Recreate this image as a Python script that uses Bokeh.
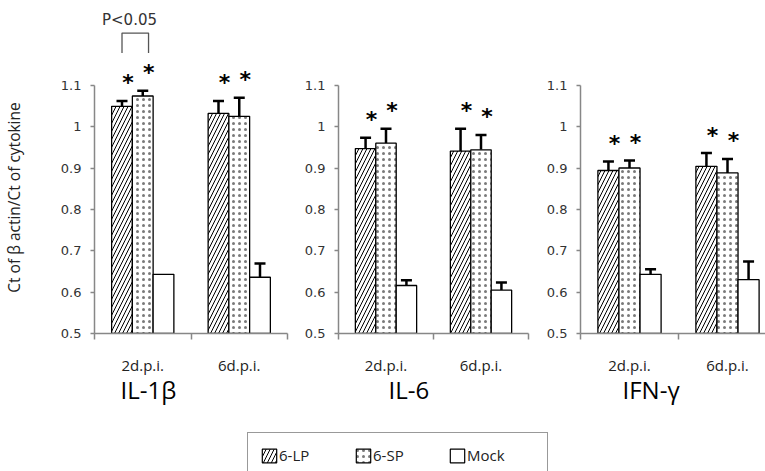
import math
from bokeh.plotting import figure
from bokeh.layouts import column, row
from bokeh.models import (ColumnDataSource, Range1d, FixedTicker, NumeralTickFormatter,
                          Whisker, TeeHead, Title, Legend, LegendItem, LinearAxis, Label)
from bokeh.core.properties import value
from bokeh.embed import file_html
from bokeh.resources import INLINE

# ---- data -------------------------------------------------------------
days = ["2d.p.i.", "6d.p.i."]
groups = ["6-LP", "6-SP", "Mock"]
cytokines = ["IL-1β", "IL-6", "IFN-γ"]
y_title = "Ct of β actin/Ct of cytokine"

il1b_lp = [1.049, 1.032]
il1b_lp_err = [0.013, 0.030]
il1b_sp = [1.074, 1.025]
il1b_sp_err = [0.013, 0.045]
il1b_mock = [0.643, 0.636]
il1b_mock_err = [0.0, 0.033]

il6_lp = [0.947, 0.941]
il6_lp_err = [0.026, 0.054]
il6_sp = [0.960, 0.944]
il6_sp_err = [0.035, 0.036]
il6_mock = [0.616, 0.605]
il6_mock_err = [0.013, 0.018]

ifng_lp = [0.894, 0.904]
ifng_lp_err = [0.022, 0.032]
ifng_sp = [0.900, 0.888]
ifng_sp_err = [0.018, 0.034]
ifng_mock = [0.643, 0.630]
ifng_mock_err = [0.012, 0.044]

y_ticks = [0.5, 0.6, 0.7, 0.8, 0.9, 1.0, 1.1]

# ---- styling ----------------------------------------------------------
BAR_W = 0.215
OFFSETS = [-BAR_W, 0.0, BAR_W]
AXIS_GREY = "#878787"
TICK_FONT = "DejaVu Sans"
TEXT_FONT = "Open Sans"

BAR_STYLES = [
    dict(fill_color="white", hatch_pattern="/", hatch_color="black",
         hatch_scale=8, hatch_weight=1.0),
    dict(fill_color="white", hatch_pattern=".", hatch_color="#333333",
         hatch_scale=6, hatch_weight=0.5, hatch_alpha=0.65),
    dict(fill_color="white"),
]

H = 420
LABEL_W = 26
PANELS = [
    # cytokine, series, errors, width, left border, right border, x end, title offset
    (cytokines[0], [il1b_lp, il1b_sp, il1b_mock], [il1b_lp_err, il1b_sp_err, il1b_mock_err],
     290 - LABEL_W, 94 - LABEL_W, 3, 2.0, 26),
    (cytokines[1], [il6_lp, il6_sp, il6_mock], [il6_lp_err, il6_sp_err, il6_mock_err],
     245, 48, 7, 2.0, 50),
    (cytokines[2], [ifng_lp, ifng_sp, ifng_mock], [ifng_lp_err, ifng_sp_err, ifng_mock_err],
     230, 45, 0, 185 / 98, 42),
]


def make_panel(idx, name, series, errors, width, left, right, x_end, title_offset):
    p = figure(width=width, height=H, output_backend="svg", toolbar_location=None,
               x_range=Range1d(0, x_end), y_range=Range1d(0.5, 1.3),
               min_border_left=left, min_border_right=right,
               min_border_top=2, min_border_bottom=H - 333,
               x_axis_type=None, y_axis_type=None)
    p.grid.visible = False
    p.outline_line_color = None

    for gi, (vals, errs) in enumerate(zip(series, errors)):
        xs = [i + 0.5 + OFFSETS[gi] for i in range(len(days))]
        src = ColumnDataSource(dict(x=xs, top=vals))
        p.vbar(x="x", top="top", bottom=0.5, width=BAR_W, source=src,
               line_color="black", line_width=1.3, **BAR_STYLES[gi])
        keep = [k for k, e in enumerate(errs) if e > 0]
        wsrc = ColumnDataSource(dict(x=[xs[k] for k in keep],
                                     lower=[vals[k] for k in keep],
                                     upper=[vals[k] + errs[k] for k in keep]))
        w = Whisker(source=wsrc, base="x", lower="lower", upper="upper",
                    dimension="height", line_color="black", line_width=2.5,
                    upper_head=TeeHead(size=11, line_color="black", line_width=2.5),
                    lower_head=None)
        p.add_layout(w)
        if gi < 2:
            ssrc = ColumnDataSource(dict(x=xs, y=[v + e for v, e in zip(vals, errs)]))
            p.text(x="x", y="y", text=value("*"), source=ssrc,
                   text_font=value("DejaVu Sans"), text_font_style="bold",
                   text_font_size="22px", text_align="center",
                   text_baseline="middle", x_offset=6, y_offset=-18,
                   text_color="black")

    # y axis
    yax = LinearAxis(ticker=FixedTicker(ticks=y_ticks, minor_ticks=[]),
                     formatter=NumeralTickFormatter(format="0.[0]"),
                     bounds=(0.5, 1.1))
    yax.axis_line_color = AXIS_GREY
    yax.axis_line_width = 1.5
    yax.major_tick_line_color = AXIS_GREY
    yax.major_tick_line_width = 1.5
    yax.major_tick_out = 4
    yax.major_tick_in = 0
    yax.major_label_standoff = 9
    yax.major_label_text_font = TICK_FONT
    yax.major_label_text_font_size = "13px"
    yax.major_label_text_color = "#333333"
    p.add_layout(yax, "left")

    # x axis: boundary ticks as minor ticks, day labels at centres
    xax = LinearAxis(ticker=FixedTicker(ticks=[0.5, 1.5], minor_ticks=[0, 1, 2]),
                     major_label_overrides={0.5: days[0], 1.5: days[1]})
    xax.axis_line_color = AXIS_GREY
    xax.axis_line_width = 1.5
    xax.major_tick_line_color = None
    xax.major_tick_out = 0
    xax.minor_tick_line_color = AXIS_GREY
    xax.minor_tick_line_width = 1.5
    xax.minor_tick_out = 6
    xax.minor_tick_in = 0
    xax.major_label_standoff = 15
    xax.major_label_text_font = TEXT_FONT
    xax.major_label_text_font_size = "15px"
    xax.major_label_text_color = "#222222"
    p.add_layout(xax, "below")

    t = Title(text=name, align="left", offset=title_offset,
              text_font=TEXT_FONT, text_font_size="24px",
              text_font_style="normal", text_color="black", standoff=-13)
    p.add_layout(t, "below")

    if idx == 0:
        # significance bracket between 6-LP and 6-SP at 2 d.p.i.
        x_lp = 0.5 + OFFSETS[0]
        x_sp = 0.5 + OFFSETS[1] + 0.06
        p.line(x=[x_lp, x_lp, x_sp, x_sp], y=[1.178, 1.226, 1.226, 1.178],
               line_color="#555555", line_width=1.3)
        p.text(x=[(x_lp + x_sp) / 2 - 0.06], y=[1.258], text=["P<0.05"],
               text_font=value("DejaVu Sans"), text_font_size="15px",
               text_align="center", text_baseline="alphabetic",
               text_color="#333333")
    return p


panels = [make_panel(i, *cfg) for i, cfg in enumerate(PANELS)]

# ---- shared y-axis title strip ----------------------------------------
ystrip = figure(width=LABEL_W, height=H, output_backend="svg", toolbar_location=None,
                x_range=Range1d(0, 1), y_range=Range1d(0, 1), min_border=0,
                x_axis_type=None, y_axis_type=None)
ystrip.grid.visible = False
ystrip.outline_line_color = None
ystrip.add_layout(Label(x=13, y=136, x_units="screen", y_units="screen",
                        text=y_title, angle=math.pi / 2, text_align="center",
                        text_baseline="middle", text_font=TEXT_FONT,
                        text_font_size="15.5px", text_color="#222222"))

# ---- legend strip -----------------------------------------------------
leg = figure(width=765, height=51, output_backend="svg", toolbar_location=None,
             x_range=Range1d(0, 1), y_range=Range1d(0, 1),
             min_border=0, x_axis_type=None, y_axis_type=None)
leg.grid.visible = False
leg.outline_line_color = None
items = []
for gi, g in enumerate(groups):
    # legend-only renderers, tucked underneath the legend box
    r = leg.vbar(x=[0.5], top=[0.3], bottom=0.1, width=0.02, line_color="black",
                 line_width=1.2, **BAR_STYLES[gi])
    items.append(LegendItem(label=g, renderers=[r]))
legend = Legend(items=items, orientation="horizontal", location=(247, -7),
                glyph_width=18, glyph_height=17, label_standoff=1,
                label_width=68, spacing=7, padding=12,
                label_text_font=TEXT_FONT, label_text_font_size="15px",
                label_text_color="#222222",
                border_line_color="#333333", border_line_width=1.2,
                background_fill_color="white", background_fill_alpha=1.0)
leg.add_layout(legend, "center")

layout = column(row(ystrip, *panels), leg)
open("out.html", "w").write(file_html(layout, INLINE))
